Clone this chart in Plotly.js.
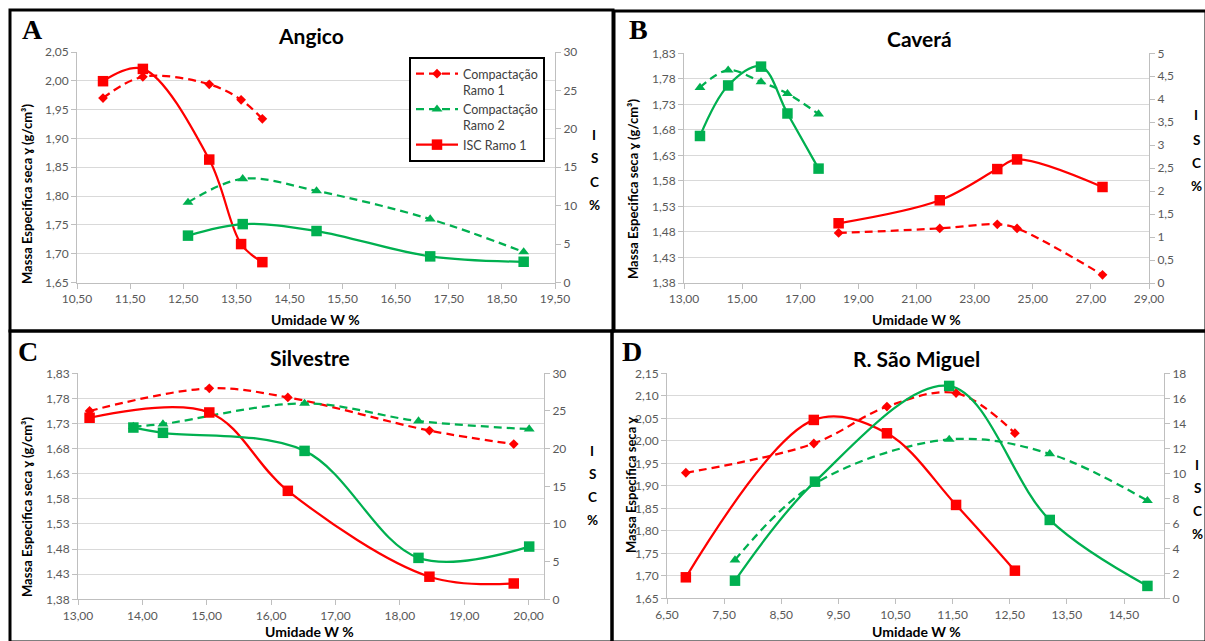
<!DOCTYPE html>
<html><head><meta charset="utf-8">
<script src="https://cdn.plot.ly/plotly-3.0.1.min.js"></script>
<style>html,body{margin:0;padding:0;background:#fff}#chart{width:1205px;height:641px}</style>
</head><body><div id="chart"></div>
<script>
// ---------- DATA ----------
// A - Angico
const angicoW1 = [10.99, 11.74, 12.99, 13.59, 13.99];
const angicoDens1 = [1.970, 2.007, 1.994, 1.967, 1.934];
const angicoIsc1 = [26.2, 27.8, 16.0, 5.0, 2.65];
const angicoW2 = [12.59, 13.62, 15.01, 17.15, 18.91];
const angicoDens2 = [1.789, 1.830, 1.809, 1.760, 1.703];
const angicoIsc2 = [6.1, 7.6, 6.7, 3.4, 2.7];
// B - Caverá
const caveraW1 = [18.32, 21.80, 23.78, 24.46, 27.40];
const caveraDens1 = [1.478, 1.487, 1.495, 1.487, 1.396];
const caveraIsc1 = [1.30, 1.80, 2.48, 2.69, 2.09];
const caveraW2 = [13.55, 14.52, 15.65, 16.56, 17.63];
const caveraDens2 = [1.763, 1.797, 1.774, 1.751, 1.711];
const caveraIsc2 = [3.20, 4.30, 4.71, 3.69, 2.49];
// C - Silvestre
const silvW1 = [13.18, 15.04, 16.26, 18.46, 19.77];
const silvDens1 = [1.755, 1.800, 1.782, 1.716, 1.689];
const silvIsc1 = [24.1, 24.8, 14.4, 3.0, 2.1];
const silvW2 = [13.86, 14.32, 16.52, 18.29, 20.01];
const silvDens2 = [1.724, 1.729, 1.770, 1.735, 1.719];
const silvIsc2 = [22.8, 22.1, 19.7, 5.5, 7.0];
// D - R. São Miguel
const smW1 = [6.83, 9.07, 10.35, 11.56, 12.59];
const smDens1 = [1.929, 1.994, 2.076, 2.106, 2.017];
const smIsc1 = [1.68, 14.27, 13.2, 7.47, 2.21];
const smW2 = [7.69, 9.09, 11.44, 13.20, 14.91];
const smDens2 = [1.735, 1.905, 2.003, 1.971, 1.867];
const smIsc2 = [1.41, 9.33, 16.99, 6.27, 0.99];

const panelTitles = ['Angico', 'Caverá', 'Silvestre', 'R. São Miguel'];
const panelLetters = ['A', 'B', 'C', 'D'];
const seriesNames = ['Compactação<br>Ramo 1', 'Compactação<br>Ramo 2', 'ISC Ramo 1', 'ISC Ramo 2'];
const xTitle = 'Umidade W %';
const yTitle = 'Massa Especifica seca ɣ (g/cm³)';
const yTitleShort = 'Massa Especifica seca ɣ';
const iscLetters = ['I', 'S', 'C', '%'];

// ---------- STYLE / LAYOUT ----------
const W = 1205, H = 641;
const px = v => v / W, py = v => 1 - v / H;
const FONT = 'Lato, "Open Sans", sans-serif';
const RED = '#FF0000', GREEN = '#00B050';
const TICK = '#595959', AX = '#BFBFBF', GRID = '#D9D9D9';
const DASH = '8px,5px';
const tickfont = {family: FONT, size: 12, color: TICK};

function trace(x, y, xa, ya, color, dash, symbol, size, name, showlegend) {
  return {type: 'scatter', mode: 'lines+markers', x, y, xaxis: xa, yaxis: ya, name, showlegend,
    line: {color, width: 2.25, dash, shape: 'spline', smoothing: 1},
    marker: {symbol, size, color}, cliponaxis: false, hoverinfo: 'skip'};
}
function xax(domain, range, tick0, dtick, anchor) {
  return {domain, range, tick0, dtick, tickmode: 'linear', tickformat: '.2f', showgrid: false, zeroline: false,
    showline: true, linecolor: AX, linewidth: 1, ticks: 'outside', ticklen: 5, tickcolor: AX, tickfont, anchor,
    fixedrange: true};
}
function ylax(domain, range, dtick, anchor) {
  return {domain, range, tick0: range[0], dtick, tickmode: 'linear', tickformat: '.2f', showgrid: true,
    gridcolor: GRID, gridwidth: 1, zeroline: false, showline: true, linecolor: AX, ticks: 'outside', ticklen: 5,
    tickcolor: AX, tickfont, anchor, fixedrange: true};
}
function yrax(range, dtick, overlaying, anchor) {
  return {range, tick0: 0, dtick, tickmode: 'linear', overlaying, side: 'right', anchor, showgrid: false,
    zeroline: false, showline: true, linecolor: AX, ticks: 'outside', ticklen: 5, tickcolor: AX, tickfont,
    fixedrange: true};
}

const panels = [
  {w1: angicoW1, d1: angicoDens1, i1: angicoIsc1, w2: angicoW2, d2: angicoDens2, i2: angicoIsc2,
   xa: 'x', yl: 'y', yr: 'y2', legend: true},
  {w1: caveraW1, d1: caveraDens1, i1: caveraIsc1, w2: caveraW2, d2: caveraDens2, i2: caveraIsc2,
   xa: 'x2', yl: 'y3', yr: 'y4', legend: false},
  {w1: silvW1, d1: silvDens1, i1: silvIsc1, w2: silvW2, d2: silvDens2, i2: silvIsc2,
   xa: 'x3', yl: 'y5', yr: 'y6', legend: false},
  {w1: smW1, d1: smDens1, i1: smIsc1, w2: smW2, d2: smDens2, i2: smIsc2,
   xa: 'x4', yl: 'y7', yr: 'y8', legend: false}
];

const data = [];
panels.forEach(p => {
  data.push(trace(p.w1, p.d1, p.xa, p.yl, RED, DASH, 'diamond', 7.5, seriesNames[0], p.legend));
  data.push(trace(p.w2, p.d2, p.xa, p.yl, GREEN, DASH, 'triangle-up', 9.5, seriesNames[1], p.legend));
  data.push(trace(p.w1, p.i1, p.xa, p.yr, RED, 'solid', 'square', 10.5, seriesNames[2], p.legend));
  data.push(trace(p.w2, p.i2, p.xa, p.yr, GREEN, 'solid', 'square', 10.5, seriesNames[3], false));
});

const layout = {
  width: W, height: H, margin: {l: 0, r: 0, t: 0, b: 0}, paper_bgcolor: '#fff', plot_bgcolor: 'rgba(0,0,0,0)',
  separators: ', ', font: {family: FONT}, showlegend: true,
  legend: {x: px(409), y: py(57), xanchor: 'left', yanchor: 'top', bordercolor: '#000', borderwidth: 2,
    bgcolor: '#fff', font: {family: FONT, size: 12.5, color: '#404040'}, itemwidth: 42, valign: 'top',
    tracegroupgap: 2, traceorder: 'normal'},
  // A
  xaxis: xax([px(77), px(555)], [10.5, 19.5], 10.5, 1, 'y'),
  yaxis: ylax([py(282.5), py(52)], [1.65, 2.05], 0.05, 'x'),
  yaxis2: yrax([0, 30], 5, 'y', 'x'),
  // B
  xaxis2: xax([px(684), px(1149)], [13, 29], 13, 2, 'y3'),
  yaxis3: ylax([py(283), py(53.3)], [1.38, 1.83], 0.05, 'x2'),
  yaxis4: yrax([0, 5], 0.5, 'y3', 'x2'),
  // C
  xaxis3: xax([px(78), px(544)], [13, 20.24], 13, 1, 'y5'),
  yaxis5: ylax([py(599.3), py(373.3)], [1.38, 1.83], 0.05, 'x3'),
  yaxis6: yrax([0, 30], 5, 'y5', 'x3'),
  // D
  xaxis4: xax([px(667), px(1164)], [6.5, 15.2], 6.5, 1, 'y7'),
  yaxis7: ylax([py(598.3), py(373.3)], [1.65, 2.15], 0.05, 'x4'),
  yaxis8: yrax([0, 18], 2, 'y7', 'x4'),
  shapes: [
    [10, 10, 613, 331], [614, 11, 1206, 331], [10, 331, 612, 642], [612, 331, 1206, 642]
  ].map(r => ({type: 'rect', xref: 'paper', yref: 'paper', x0: px(r[0]), x1: px(r[2]), y0: py(r[3]), y1: py(r[1]),
    line: {color: '#000', width: 3}, layer: 'above'})),
  annotations: []
};

function ann(text, x, y, opts) {
  layout.annotations.push(Object.assign({text, x: px(x), y: py(y), xref: 'paper', yref: 'paper',
    showarrow: false, xanchor: 'center', yanchor: 'middle',
    font: {family: FONT, size: 13, color: '#000'}}, opts || {}));
}
const titlePos = [[311, 36], [920, 38], [310, 357], [916, 358]];
const letterPos = [[32, 30], [638, 30], [28, 351], [632, 351]];
const xTitlePos = [[315, 319], [916, 319], [310, 631], [916, 631]];
const yTitlePos = [[27, 194], [633, 189], [27, 507], [631, 485]];
const iscPos = [[594, [135, 158, 182, 205]], [1196, [115, 140, 163, 186]],
                [592, [451, 474, 497, 520]], [1197, [465, 488, 511, 534]]];
for (let i = 0; i < 4; i++) {
  ann('<b>' + panelTitles[i] + '</b>', titlePos[i][0], titlePos[i][1], {font: {family: FONT, size: 21, color: '#000'}});
  ann('<b>' + panelLetters[i] + '</b>', letterPos[i][0], letterPos[i][1],
      {font: {family: '"Liberation Serif", "DejaVu Serif", serif', size: 28, color: '#000'}});
  ann('<b>' + xTitle + '</b>', xTitlePos[i][0], xTitlePos[i][1], {font: {family: FONT, size: 14, color: '#000'}});
  ann('<b>' + (i === 3 ? yTitleShort : yTitle) + '</b>', yTitlePos[i][0], yTitlePos[i][1],
      {textangle: -90, font: {family: FONT, size: 13, color: '#000'}});
  iscLetters.forEach((L, k) => ann('<b>' + L + '</b>', iscPos[i][0], iscPos[i][1][k],
      {font: {family: FONT, size: 13.5, color: '#000'}}));
}

Plotly.newPlot('chart', data, layout, {displayModeBar: false, staticPlot: true});
</script>
</body></html>
